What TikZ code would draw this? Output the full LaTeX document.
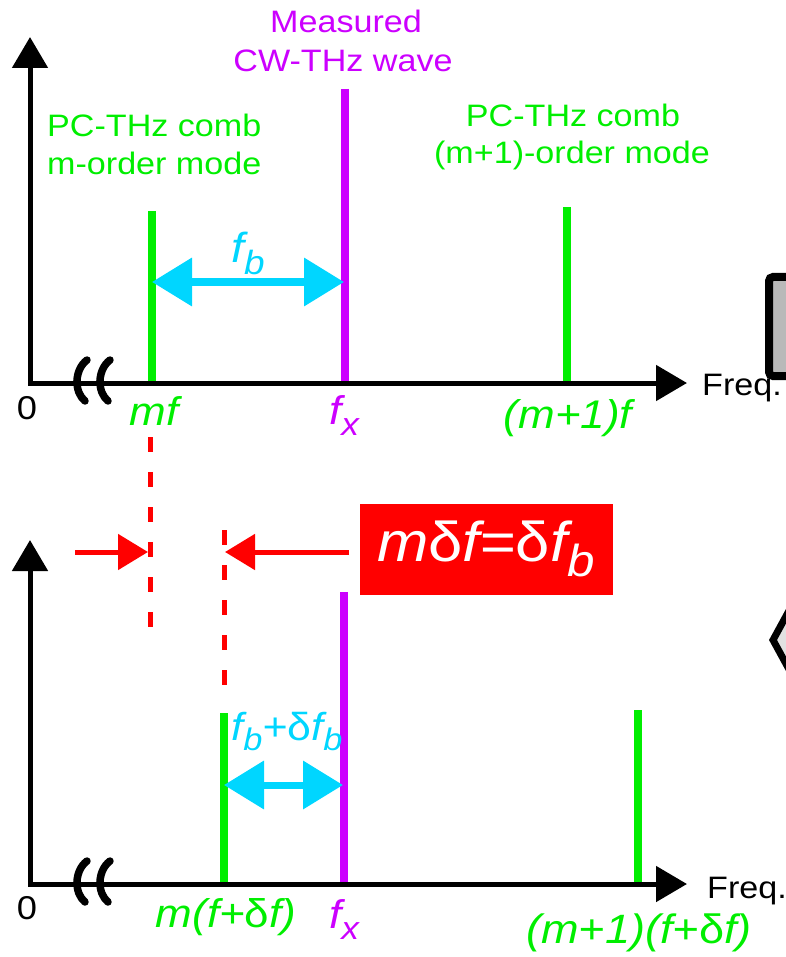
\documentclass[tikz,border=0pt]{standalone}
\usepackage{fontspec}
\setmainfont{Liberation Sans}[FakeStretch=1.1]
\usetikzlibrary{arrows.meta}
\definecolor{cgreen}{RGB}{0,238,0}
\definecolor{cpurple}{RGB}{204,0,255}
\definecolor{ccyan}{RGB}{0,214,255}
\definecolor{cred}{RGB}{255,0,0}
\definecolor{cgray}{RGB}{185,185,185}
\definecolor{clgray}{RGB}{225,225,225}
\newcommand\lbsub[1]{\raisebox{-0.28em}{\scalebox{0.8}{#1}}}
\newcommand\dlt{{\upshape δ}}
\newcommand\fA{\fontsize{31}{38}\selectfont}
\newcommand\fI{\fontsize{40}{44}\selectfont\itshape}
\newcommand\fZ{\fontsize{33}{36}\selectfont}
\newcommand\fB{\fontsize{56}{60}\selectfont\itshape}
\begin{document}
\begin{tikzpicture}[x=1pt,y=-1pt,
  axisline/.style={line width=5pt,black,line join=miter,
    {Triangle[length=31pt,width=35pt]}-{Triangle[length=31pt,width=35pt]}},
  spec/.style={line width=8pt},
  gline/.style={spec,draw=cgreen},
  pline/.style={spec,draw=cpurple},
  fbarrow/.style={line width=7pt,draw=ccyan,
    {Triangle[length=40pt,width=47pt]}-{Triangle[length=40pt,width=47pt]}},
  redarrow/.style={line width=5pt,draw=cred,-{Triangle[length=30pt,width=35pt]}},
  reddash/.style={line width=5pt,draw=cred,dash pattern=on 15pt off 20pt},
  brk/.style={line width=7.5pt,black,line cap=round},
  lbl/.style={inner sep=0pt,anchor=base,font=\fA},
  lblw/.style={inner sep=0pt,anchor=base west,font=\fA},
  zlbl/.style={inner sep=0pt,anchor=base,font=\fZ},
  ilbl/.style={inner sep=0pt,anchor=base,font=\fI},
  redbox/.style={fill=cred,text=white,font=\fB,minimum width=253pt,minimum height=91pt,inner sep=0pt}
]
\useasboundingbox (0,0) rectangle (785,957);

% ---------- top panel ----------
\coordinate (t0) at (30,383);
\coordinate (tyt) at (30,37);
\coordinate (txt) at (687,383);
\coordinate (tg1a) at (152,211); \coordinate (tg1b) at (152,383);
\coordinate (tpa) at (345,89);   \coordinate (tpb) at (345,383);
\coordinate (tg2a) at (567,207); \coordinate (tg2b) at (567,383);
\coordinate (tfa) at (152,282);  \coordinate (tfb) at (344,282);

\draw[gline] (tg1a) -- (tg1b);
\draw[pline] (tpa) -- (tpb);
\draw[gline] (tg2a) -- (tg2b);
\draw[axisline] (tyt) -- (t0) -- (txt);
\draw[brk] (87,360) .. controls (74,370) and (74,392) .. (85,401);
\draw[brk] (110,360) .. controls (97,370) and (97,392) .. (108,401);
\draw[fbarrow] (tfa) -- (tfb);

\node[zlbl] (tzero) at (27,419) {0};
\node[lblw,text=cgreen] (tl1) at (47,137) {PC-THz comb};
\node[lblw,text=cgreen] (tl2) at (47,175) {m-order mode};
\node[lbl,text=cpurple] (tm1) at (346,33) {Measured};
\node[lbl,text=cpurple] (tm2) at (343,72) {CW-THz wave};
\node[lbl,text=cgreen] (tr1) at (573,127) {PC-THz comb};
\node[lbl,text=cgreen] (tr2) at (572,164) {(m+1)-order mode};
\node[ilbl,text=ccyan,font=\fontsize{42}{46}\selectfont\itshape] (tfbl) at (248,263) {f\lbsub{b}};
\node[ilbl,text=cgreen] (tmf) at (154,425) {mf};
\node[ilbl,text=cpurple] (tfx) at (344,424) {f\lbsub{x}};
\node[ilbl,text=cgreen] (tm1f) at (568,428) {(m+1)f};
\node[lblw] (tfreq) at (702,395) {Freq.};

% right-edge partial shapes
\draw[line width=8pt,fill=cgray,rounded corners=4pt] (769,277) rectangle (810,376);
\draw[line width=7pt,fill=clgray,line join=miter] (815,563) -- (773,640) -- (815,717);

% ---------- red comparison ----------
\coordinate (d1a) at (150,437); \coordinate (d1b) at (150,627);
\coordinate (d2a) at (224,530); \coordinate (d2b) at (224,695);
\draw[reddash] (d1a) -- (d1b);
\draw[reddash] (d2a) -- (d2b);
\node[redbox] (eq) at (486,549) {m\dlt f=\dlt f\lbsub{b}};
\coordinate (la) at (75,552);  \coordinate (lb) at (148,552);
\coordinate (ra) at (349,552); \coordinate (rb) at (225,552);
\draw[redarrow] (la) -- (lb);
\draw[redarrow] (ra) -- (rb);

% ---------- bottom panel ----------
\coordinate (b0) at (30,884);
\coordinate (byt) at (30,540);
\coordinate (bxt) at (687,884);
\coordinate (bg1a) at (224,713); \coordinate (bg1b) at (224,884);
\coordinate (bpa) at (344,592);  \coordinate (bpb) at (344,884);
\coordinate (bg2a) at (638,710); \coordinate (bg2b) at (638,884);
\coordinate (bfa) at (224,785);  \coordinate (bfb) at (343,785);

\draw[gline] (bg1a) -- (bg1b);
\draw[pline] (bpa) -- (bpb);
\draw[gline] (bg2a) -- (bg2b);
\draw[axisline] (byt) -- (b0) -- (bxt);
\draw[brk] (87,861) .. controls (74,871) and (74,893) .. (85,902);
\draw[brk] (110,861) .. controls (97,871) and (97,893) .. (108,902);
\draw[fbarrow] (bfa) -- (bfb);

\node[zlbl] (bzero) at (27,919) {0};
\node[ilbl,text=ccyan,font=\fontsize{39}{44}\selectfont\itshape] (bfbl) at (287,740) {f\lbsub{b}+\dlt f\lbsub{b}};
\node[ilbl,text=cgreen] (bmf) at (226,927) {m(f+\dlt f)};
\node[ilbl,text=cpurple] (bfx) at (344,928) {f\lbsub{x}};
\node[ilbl,text=cgreen,font=\fontsize{41}{44}\selectfont\itshape] (bm1f) at (639,943) {(m+1)(f+\dlt f)};
\node[lblw] (bfreq) at (707,898) {Freq.};
\end{tikzpicture}
\end{document}
